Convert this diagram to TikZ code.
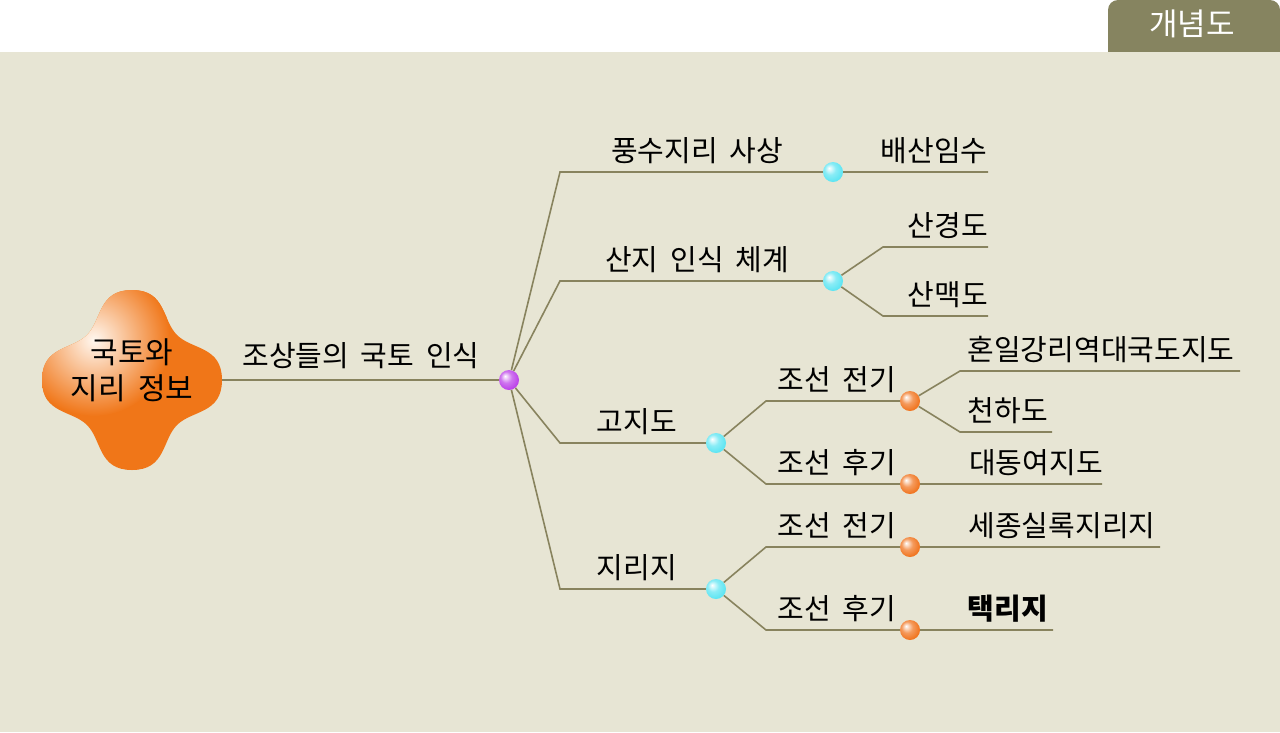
\documentclass[tikz,border=0pt]{standalone}
\usepackage{fontspec}
\setmainfont[WordSpace=1.8]{Noto Sans CJK KR}
\usetikzlibrary{positioning, shadings}

\definecolor{bgbeige}{RGB}{231,229,212}
\definecolor{tabolive}{RGB}{134,132,96}
\definecolor{branch}{RGB}{136,131,94}
\definecolor{rootorange}{RGB}{240,118,24}
\definecolor{ballcyan}{RGB}{88,228,242}
\definecolor{ballorange}{RGB}{240,112,24}
\definecolor{ballpurple}{RGB}{186,60,232}

\pgfdeclareradialshading{knobcyan}{\pgfpoint{-10bp}{10bp}}{color(0bp)=(white); color(14bp)=(ballcyan!70!white); color(30bp)=(ballcyan); color(50bp)=(ballcyan!85!black)}
\pgfdeclareradialshading{knoborange}{\pgfpoint{-10bp}{10bp}}{color(0bp)=(white); color(14bp)=(ballorange!70!white); color(30bp)=(ballorange); color(50bp)=(ballorange!80!black)}
\pgfdeclareradialshading{knobpurple}{\pgfpoint{-10bp}{10bp}}{color(0bp)=(white); color(14bp)=(ballpurple!70!white); color(30bp)=(ballpurple); color(50bp)=(ballpurple!85!black)}

\begin{document}
\begin{tikzpicture}[
    x=1pt, y=-1pt,
    font=\fontsize{29}{34}\selectfont,
    branchline/.style={draw=branch, line width=1.6pt},
    knob/.style={circle, inner sep=0pt, minimum size=20pt},
    cyanknob/.style={knob, shading=knobcyan},
    orangeknob/.style={knob, shading=knoborange},
    purpleknob/.style={knob, shading=knobpurple},
    lbl/.style={inner sep=0pt, anchor=base}
]
    \useasboundingbox (0,0) rectangle (1280,732);

    % --- BACKGROUND & TAB ---
    \fill[white] (0,0) rectangle (1280,732);
    \fill[tabolive, rounded corners=10pt] (1108,80) -- (1108,0) -- (1280,0) -- (1280,80) -- cycle;
    \fill[bgbeige] (0,52) rectangle (1280,732);
    \node[text=white, font=\fontsize{31}{34}\selectfont] (tab) at (1192,24) {개념도};

    % --- ROOT SHAPE ---
    \begin{scope}[shift={(132,380)}]
        \begin{scope}
            \clip (0,-90) .. controls (34,-90) and (30,-60) .. (45,-45)
                .. controls (60,-30) and (90,-34) .. (90,0)
                .. controls (90,34) and (60,30) .. (45,45)
                .. controls (30,60) and (34,90) .. (0,90)
                .. controls (-34,90) and (-30,60) .. (-45,45)
                .. controls (-60,30) and (-90,34) .. (-90,0)
                .. controls (-90,-34) and (-60,-30) .. (-45,-45)
                .. controls (-30,-60) and (-34,-90) .. (0,-90) -- cycle;
            \fill[rootorange] (-100,-100) rectangle (100,100);
            \shade[inner color=orange!6!white, outer color=rootorange] (-38,-40) circle (76);
        \end{scope}
    \end{scope}
    \node[circle, minimum size=180pt] (root) at (132,380) {};
    \node[align=center, font=\fontsize{30}{36}\selectfont, inner sep=0pt] (root-lbl) at (132,370) {국토와\\지리 정보};

    % --- HUB ---
    \node[purpleknob] (hub) at (509,380) {};
    \draw[branchline] (root) -- (hub);
    \node[lbl] (hub-lbl) at (361,366) {조상들의 국토 인식};

    % --- 풍수지리 사상 ---
    \coordinate (pungsu-in) at (560,172);
    \coordinate (pungsu-end) at (988,172);
    \node[cyanknob] (pungsu) at (833,172) {};
    \draw[branchline] (hub) -- (pungsu-in) -- (pungsu) -- (pungsu-end);
    \node[lbl] (pungsu-lbl) at (697,161) {풍수지리 사상};
    \node[lbl] (baesan) at (934,161) {배산임수};

    % --- 산지 인식 체계 ---
    \coordinate (sanji-in) at (560,281);
    \node[cyanknob] (sanji) at (833,281) {};
    \draw[branchline] (hub) -- (sanji-in) -- (sanji);
    \node[lbl] (sanji-lbl) at (697,270) {산지 인식 체계};
    \coordinate (sangyeong-in) at (883,247);
    \coordinate (sangyeong-end) at (988,247);
    \coordinate (sanmaek-in) at (883,316);
    \coordinate (sanmaek-end) at (988,316);
    \draw[branchline] (sanji) -- (sangyeong-in) -- (sangyeong-end);
    \draw[branchline] (sanji) -- (sanmaek-in) -- (sanmaek-end);
    \node[lbl] (sangyeong) at (948,236) {산경도};
    \node[lbl] (sanmaek) at (948,305) {산맥도};

    % --- 고지도 ---
    \coordinate (goji-in) at (560,443);
    \node[cyanknob] (goji) at (716,443) {};
    \draw[branchline] (hub) -- (goji-in) -- (goji);
    \node[lbl] (goji-lbl) at (637,432) {고지도};

    \coordinate (gojeon-in) at (766,401);
    \node[orangeknob] (gojeon) at (910,401) {};
    \draw[branchline] (goji) -- (gojeon-in) -- (gojeon);
    \node[lbl] (gojeon-lbl) at (837,390) {조선 전기};
    \coordinate (honil-in) at (960,371);
    \coordinate (honil-end) at (1240,371);
    \coordinate (cheonha-in) at (960,432);
    \coordinate (cheonha-end) at (1052,432);
    \draw[branchline] (gojeon) -- (honil-in) -- (honil-end);
    \draw[branchline] (gojeon) -- (cheonha-in) -- (cheonha-end);
    \node[lbl] (honil) at (1101,360) {혼일강리역대국도지도};
    \node[lbl] (cheonha) at (1008,421) {천하도};

    \coordinate (gohu-in) at (766,484);
    \coordinate (gohu-end) at (1102,484);
    \node[orangeknob] (gohu) at (910,484) {};
    \draw[branchline] (goji) -- (gohu-in) -- (gohu) -- (gohu-end);
    \node[lbl] (gohu-lbl) at (837,473) {조선 후기};
    \node[lbl] (daedong) at (1036,473) {대동여지도};

    % --- 지리지 ---
    \coordinate (jiri-in) at (560,589);
    \node[cyanknob] (jiri) at (716,589) {};
    \draw[branchline] (hub) -- (jiri-in) -- (jiri);
    \node[lbl] (jiri-lbl) at (637,578) {지리지};

    \coordinate (jijeon-in) at (766,547);
    \coordinate (jijeon-end) at (1160,547);
    \node[orangeknob] (jijeon) at (910,547) {};
    \draw[branchline] (jiri) -- (jijeon-in) -- (jijeon) -- (jijeon-end);
    \node[lbl] (jijeon-lbl) at (837,536) {조선 전기};
    \node[lbl] (sejong) at (1062,536) {세종실록지리지};

    \coordinate (jihu-in) at (766,630);
    \coordinate (jihu-end) at (1053,630);
    \node[orangeknob] (jihu) at (910,630) {};
    \draw[branchline] (jiri) -- (jihu-in) -- (jihu) -- (jihu-end);
    \node[lbl] (jihu-lbl) at (837,619) {조선 후기};
    \node[lbl, font=\fontsize{29}{34}\selectfont\bfseries] (taengni) at (1008,619) {택리지};

\end{tikzpicture}
\end{document}
